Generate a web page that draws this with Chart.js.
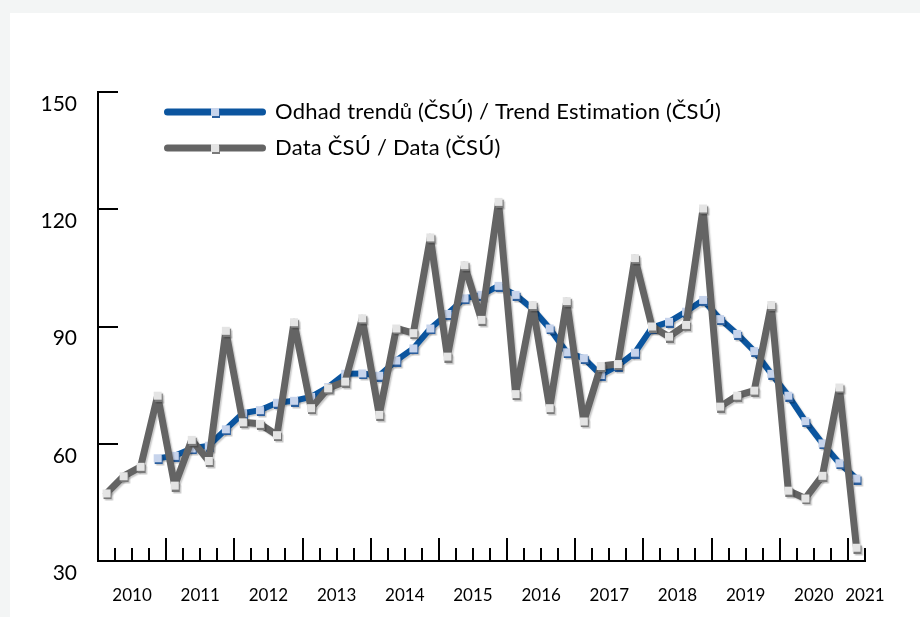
<!DOCTYPE html>
<html>
<head>
<meta charset="utf-8">
<script src="https://cdn.jsdelivr.net/npm/chart.js@4.4.0/dist/chart.umd.min.js"></script>
<style>
  html, body { margin: 0; padding: 0; background: #f3f5f5; }
  #wrap { position: relative; width: 920px; height: 617px; overflow: hidden; }
  #panel { position: absolute; left: 10px; top: 13px; right: 0; bottom: 0; background: #ffffff; }
  #chart { position: absolute; left: 0; top: 0; }
</style>
</head>
<body>
<div id="wrap">
  <div id="panel"></div>
  <canvas id="chart" width="920" height="617"></canvas>
</div>
<script>
// quarterly values, 2010 Q1 .. 2021 Q1
const years = ['2010', '2011', '2012', '2013', '2014', '2015', '2016', '2017', '2018', '2019', '2020', '2021'];
const quarters = ['Q1', 'Q2', 'Q3', 'Q4'];

const dataCsu = [
  47.3, 51.7, 54.1, 72.3,
  49.3, 61.0, 55.6, 88.9,
  65.5, 65.1, 62.2, 91.1,
  69.1, 74.2, 75.9, 92.1,
  67.4, 89.5, 88.3, 112.8,
  82.3, 105.7, 91.7, 121.9,
  72.7, 95.5, 69.1, 96.5,
  65.7, 79.9, 80.4, 107.5,
  90.0, 87.4, 90.4, 120.2,
  69.5, 72.3, 73.6, 95.5,
  48.0, 46.0, 51.8, 74.4,
  33.4
];

const trendCsu = [
  null, null, null, 56.3,
  56.9, 58.8, 59.5, 63.7,
  67.8, 68.6, 70.5, 71.0,
  72.0, 74.5, 77.9, 78.0,
  77.4, 81.3, 84.4, 89.5,
  93.2, 97.2, 98.1, 100.4,
  98.1, 94.5, 89.5, 83.4,
  81.9, 77.6, 80.0, 83.3,
  89.7, 91.2, 93.8, 96.8,
  91.9, 88.1, 83.7, 77.9,
  72.3, 65.8, 60.1, 55.0,
  51.1
];

const yTicks = [30, 60, 90, 120, 150];

const categories = [];
years.forEach(y => quarters.forEach(q => {
  if (categories.length < dataCsu.length) categories.push(y + ' ' + q);
}));

// square markers with a little 3d shade, like the original
function makeMarker(fill, shade) {
  const c = document.createElement('canvas');
  c.width = 12;
  c.height = 12;
  const g = c.getContext('2d');
  g.fillStyle = shade;
  g.fillRect(3, 4, 8, 8);
  g.fillStyle = fill;
  g.fillRect(2, 2, 8, 8);
  return c;
}

const blueMarker = makeMarker('#c7d4ec', '#2c5f9e');
const grayMarker = makeMarker('#e4e4e4', '#7a7a7a');

const axesPlugin = {
  id: 'axes',
  beforeDatasetsDraw(chart) {
    const { ctx, chartArea: a, scales: { x, y } } = chart;
    ctx.save();
    ctx.strokeStyle = '#000';
    ctx.lineWidth = 2;
    ctx.lineCap = 'square';
    ctx.beginPath();
    ctx.moveTo(a.left, a.top);
    ctx.lineTo(a.left, a.bottom);
    ctx.lineTo(a.right, a.bottom);
    yTicks.forEach(v => {
      if (v === y.min) return;
      const py = Math.round(y.getPixelForValue(v));
      ctx.moveTo(a.left, py);
      ctx.lineTo(a.left + 19, py);
    });
    ctx.stroke();

    // quarter ticks at band edges, taller ones at year boundaries
    ctx.lineCap = 'butt';
    ctx.beginPath();
    const band = x.getPixelForValue(1) - x.getPixelForValue(0);
    for (let i = 1; i <= categories.length; i++) {
      const px = Math.round(x.getPixelForValue(i - 1) + band / 2);
      const major = i % 4 === 0 && i < categories.length;
      ctx.moveTo(px, a.bottom);
      ctx.lineTo(px, a.bottom - (major ? 23 : 13));
    }
    ctx.stroke();
    ctx.restore();
  }
};

const shadowPlugin = {
  id: 'lineShadow',
  beforeDatasetDraw(chart) {
    const ctx = chart.ctx;
    ctx.save();
    ctx.shadowColor = 'rgba(0,0,0,0.22)';
    ctx.shadowOffsetX = 1.5;
    ctx.shadowOffsetY = 1.5;
    ctx.shadowBlur = 1.5;
  },
  afterDatasetDraw(chart) {
    chart.ctx.restore();
  }
};

const legendPlugin = {
  id: 'insideLegend',
  afterDraw(chart) {
    const { ctx, chartArea: a } = chart;
    ctx.save();
    chart.data.datasets.forEach((ds, i) => {
      const ly = a.top + 20 + i * 36;
      const x0 = a.left + 66;
      ctx.strokeStyle = ds.borderColor;
      ctx.lineWidth = 7;
      ctx.lineCap = 'round';
      ctx.beginPath();
      ctx.moveTo(x0 + 3.5, ly);
      ctx.lineTo(x0 + 98.5, ly);
      ctx.stroke();
      const m = ds.pointStyle;
      ctx.drawImage(m, x0 + 51 - m.width / 2, ly - m.height / 2);
      ctx.fillStyle = '#000';
      ctx.font = '22px Lato';
      ctx.letterSpacing = '0.2px';
      ctx.textBaseline = 'middle';
      ctx.textAlign = 'left';
      ctx.fillText(ds.label, x0 + 111, ly);
    });
    ctx.restore();
  }
};

const ctx = document.getElementById('chart').getContext('2d');

const chart = new Chart(ctx, {
  type: 'line',
  data: {
    labels: categories,
    datasets: [
      {
        label: 'Odhad trendů (ČSÚ) / Trend Estimation (ČSÚ)',
        data: trendCsu,
        borderColor: '#0b559f',
        borderWidth: 6,
        borderJoinStyle: 'round',
        borderCapStyle: 'round',
        tension: 0,
        pointStyle: blueMarker,
        pointRadius: 4,
        order: 1
      },
      {
        label: 'Data ČSÚ / Data (ČSÚ)',
        data: dataCsu,
        borderColor: '#646464',
        borderWidth: 7,
        borderJoinStyle: 'round',
        borderCapStyle: 'round',
        tension: 0,
        pointStyle: grayMarker,
        pointRadius: 4,
        order: 0
      }
    ]
  },
  options: {
    responsive: false,
    animation: false,
    events: [],
    layout: {
      padding: { left: 0, top: 92, right: 55, bottom: 0 }
    },
    plugins: {
      legend: { display: false },
      tooltip: { enabled: false }
    },
    scales: {
      x: {
        type: 'category',
        offset: true,
        grid: { display: false, drawTicks: false },
        border: { display: false },
        ticks: {
          autoSkip: false,
          maxRotation: 0,
          minRotation: 0,
          padding: 24,
          labelOffset: 8.5,
          color: '#000',
          font: { family: 'Lato', size: 17 },
          callback: function (value, index) {
            const lab = categories[index];
            const last = index === categories.length - 1;
            if (lab.endsWith('Q2') || (last && lab.endsWith('Q1'))) return lab.slice(0, 4);
            return '';
          }
        },
        afterFit(scale) { scale.height = 56; }
      },
      y: {
        min: 30,
        max: 150,
        grid: { display: false, drawTicks: false },
        border: { display: false },
        ticks: {
          stepSize: 30,
          padding: 21,
          labelOffset: 12,
          color: '#000',
          font: { family: 'Lato', size: 21 }
        },
        afterFit(scale) { scale.width = 98; }
      }
    }
  },
  plugins: [axesPlugin, shadowPlugin, legendPlugin]
});
</script>
</body>
</html>
